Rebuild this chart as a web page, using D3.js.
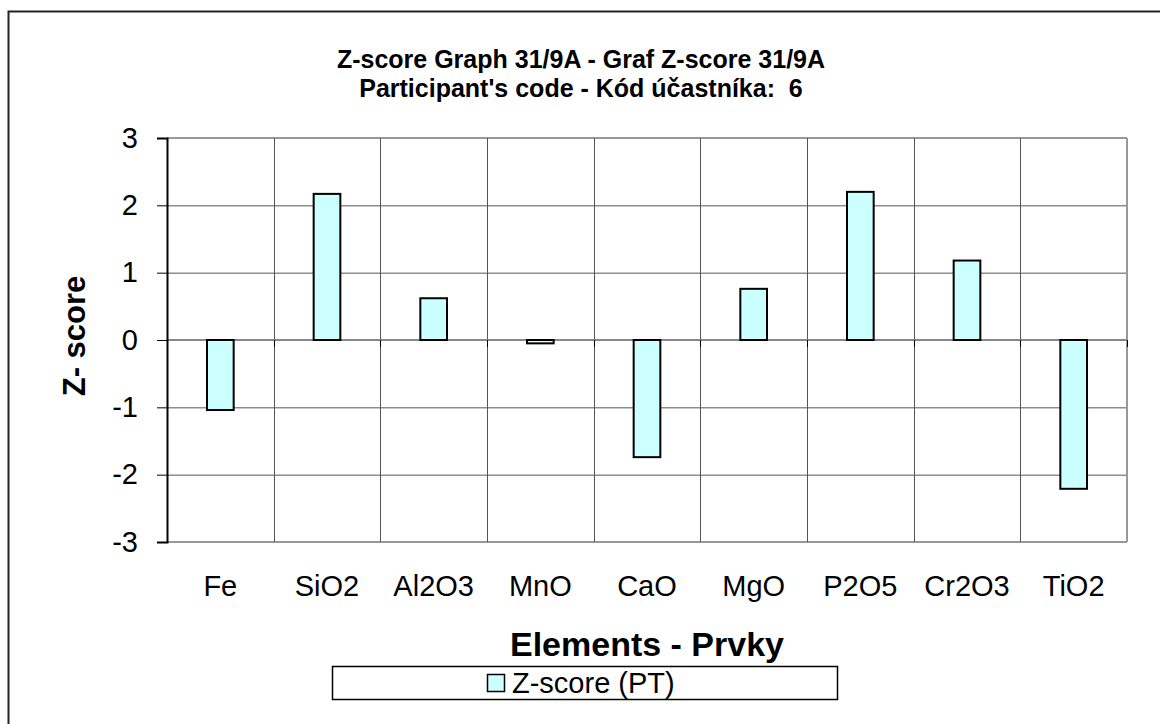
<!DOCTYPE html>
<html><head><meta charset="utf-8">
<script src="https://cdn.jsdelivr.net/npm/d3@7"></script>
<style>body{margin:0;background:#fff}svg{display:block;font-family:Arial,"Liberation Sans",sans-serif}text{white-space:pre}</style>
</head><body>
<script>
const categories = ["Fe","SiO2","Al2O3","MnO","CaO","MgO","P2O5","Cr2O3","TiO2"];
const zScores = [-1.04, 2.17, 0.62, -0.05, -1.74, 0.76, 2.2, 1.18, -2.21];
const yTicks = [-3,-2,-1,0,1,2,3];
const titleLines = ["Z-score Graph 31/9A - Graf Z-score 31/9A","Participant's code - Kód účastníka:  6"];
const xTitle = "Elements - Prvky";
const yTitle = "Z- score";
const legendLabel = "Z-score (PT)";

const W=1160,H=724;
const svg=d3.select("body").append("svg").attr("width",W).attr("height",H);
const L=167,R=1127,T=138,B=542;
const x=d3.scaleBand().domain(categories).range([L,R]).paddingInner(0.75).paddingOuter(0.375);
const y=d3.scaleLinear().domain([-3,3]).range([B,T]);

// outer border
svg.append("rect").attr("x",8.5).attr("y",11.5).attr("width",1200).attr("height",800).attr("fill","none").attr("stroke","#222").attr("stroke-width",2);

// horizontal gridlines
svg.append("g").selectAll("line").data(yTicks.filter(d=>d!==0&&Math.abs(d)!==3)).join("line")
  .attr("x1",L).attr("x2",R).attr("y1",d=>y(d)+0.5).attr("y2",d=>y(d)+0.5).attr("stroke","#555").attr("stroke-width",1);
// top/bottom border lines
svg.append("g").selectAll("line").data([3,-3]).join("line")
  .attr("x1",L).attr("x2",R).attr("y1",d=>y(d)).attr("y2",d=>y(d)).attr("stroke","#999").attr("stroke-width",2);
// vertical gridlines at category boundaries
const bounds=categories.slice(1).map(c=>x(c)-x.bandwidth()*1.5);
svg.append("g").selectAll("line").data(bounds).join("line")
  .attr("x1",d=>Math.round(d)+0.5).attr("x2",d=>Math.round(d)+0.5).attr("y1",T).attr("y2",B).attr("stroke","#555").attr("stroke-width",1);
svg.append("line").attr("x1",R).attr("x2",R).attr("y1",T).attr("y2",B).attr("stroke","#999").attr("stroke-width",2);

// zero line
svg.append("line").attr("x1",L).attr("x2",R).attr("y1",y(0)).attr("y2",y(0)).attr("stroke","#888").attr("stroke-width",2);
// category ticks on zero line
svg.append("g").selectAll("line").data(bounds.concat([R])).join("line")
  .attr("x1",d=>Math.round(d)+0.5).attr("x2",d=>Math.round(d)+0.5).attr("y1",y(0)).attr("y2",y(0)+7).attr("stroke","#000").attr("stroke-width",1);

// y axis
const yAxis=d3.axisLeft(y).tickValues(yTicks).tickSize(10).tickPadding(19).tickFormat(d=>String(d));
const gy=svg.append("g").attr("transform",`translate(${L},0)`).call(yAxis);
gy.select(".domain").attr("stroke","#000").attr("stroke-width",2);
gy.selectAll(".tick line").attr("stroke","#000").attr("stroke-width",1);
gy.selectAll("text").attr("font-size",29).attr("fill","#000").attr("font-family","Arial, 'Liberation Sans', sans-serif");

// bars
svg.append("g").selectAll("rect").data(categories).join("rect")
  .attr("x",d=>x(d)).attr("width",x.bandwidth())
  .attr("y",(d,i)=>y(Math.max(0,zScores[i])))
  .attr("height",(d,i)=>Math.abs(y(zScores[i])-y(0)))
  .attr("fill","#ccffff").attr("stroke","#000").attr("stroke-width",2);

// x labels
svg.append("g").selectAll("text").data(categories).join("text")
  .attr("x",d=>x(d)+x.bandwidth()/2).attr("y",596).attr("text-anchor","middle")
  .attr("font-size",29).text(d=>d);

// titles
svg.append("g").selectAll("text").data(titleLines).join("text")
  .attr("x",581).attr("y",(d,i)=>68+i*29).attr("text-anchor","middle")
  .attr("font-size",25).attr("font-weight","bold").text(d=>d);
svg.append("text").attr("x",647).attr("y",656).attr("text-anchor","middle")
  .attr("font-size",34).attr("font-weight","bold").text(xTitle);
svg.append("text").attr("transform","translate(85,336) rotate(-90)").attr("text-anchor","middle")
  .attr("font-size",31).attr("font-weight","bold").text(yTitle);

// legend
const lg=svg.append("g");
lg.append("rect").attr("x",332.5).attr("y",666.5).attr("width",505).attr("height",33).attr("fill","#fff").attr("stroke","#000").attr("stroke-width",1.5);
lg.append("rect").attr("x",487.5).attr("y",674.5).attr("width",17).attr("height",17).attr("fill","#ccffff").attr("stroke","#000").attr("stroke-width",1.5);
lg.append("text").attr("x",512).attr("y",693).attr("font-size",29).text(legendLabel);
</script>
</body></html>
